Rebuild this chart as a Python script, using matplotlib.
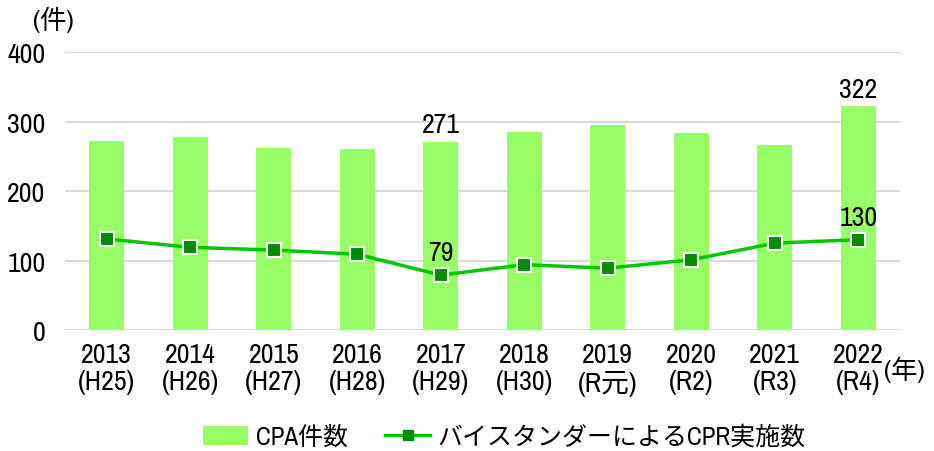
import matplotlib.pyplot as plt
import numpy as np
from matplotlib import font_manager
from matplotlib.lines import Line2D
from matplotlib.patches import Patch

# 年ごとの件数
years = ["2013", "2014", "2015", "2016", "2017", "2018", "2019", "2020", "2021", "2022"]
eras = ["(H25)", "(H26)", "(H27)", "(H28)", "(H29)", "(H30)", "(R元)", "(R2)", "(R3)", "(R4)"]
cpa_counts = [272, 278, 262, 260, 271, 285, 295, 283, 266, 322]
bystander_cpr = [131, 119, 115, 109, 79, 94, 89, 101, 125, 130]

BAR_COLOR = "#99FF66"
LINE_COLOR = "#00C800"
MARKER_COLOR = "#008C00"

# 細めの書体があれば数字に使う
names = sorted({f.name for f in font_manager.fontManager.ttflist})
narrow = [n for n in names if "Narrow" in n or "Condensed" in n]
plt.rcParams['font.family'] = narrow[:1] + ['Noto Sans CJK JP', 'DejaVu Sans']

fig = plt.figure(figsize=(9.34, 4.52), dpi=100)
ax = fig.add_axes([0.0696, 0.2677, 0.894, 0.615])

x = np.arange(len(years))
ax.bar(x, cpa_counts, width=0.42, color=BAR_COLOR, zorder=2)
ax.plot(x, bystander_cpr, color=LINE_COLOR, lw=2.5, marker="s", markersize=10,
        markerfacecolor=MARKER_COLOR, markeredgecolor="white", markeredgewidth=1.5, zorder=3)

# 値ラベル (2017, 2022)
for i in (4, 9):
    ax.text(x[i], cpa_counts[i] + 6, str(cpa_counts[i]), ha="center", va="bottom", fontsize=20)
    ax.text(x[i], bystander_cpr[i] + 14, str(bystander_cpr[i]), ha="center", va="bottom", fontsize=20)

ax.set_xlim(-0.5, len(years) - 0.5)
ax.set_ylim(0, 400)
ax.set_yticks([0, 100, 200, 300, 400])
ax.tick_params(axis="y", length=0, labelsize=20, pad=14)
ax.set_xticks(x)
ax.set_xticklabels([f"{y}\n{e}" for y, e in zip(years, eras)], fontsize=20, linespacing=1.1)
ax.tick_params(axis="x", length=0, pad=9)
ax.grid(axis="y", color="#D9D9D9", lw=1.5, zorder=0)
for s in ax.spines.values():
    s.set_visible(False)

fig.text(0.035, 0.955, "(件)", fontsize=19, ha="left", va="center")
fig.text(0.947, 0.182, "(年)", fontsize=19, ha="left", va="center")

handles = [
    Patch(facecolor=BAR_COLOR, edgecolor="none"),
    Line2D([0], [0], color=LINE_COLOR, lw=2.5, marker="s", markersize=7,
           markerfacecolor=MARKER_COLOR, markeredgecolor=MARKER_COLOR),
]
fig.legend(handles, ["CPA件数", "バイスタンダーによるCPR実施数"], loc="center",
           bbox_to_anchor=(0.54, 0.033), ncol=2, frameon=False, fontsize=18,
           handlelength=1.8, handleheight=0.8, columnspacing=1.5, handletextpad=0.3)

fig.savefig("out.png", dpi=100)
